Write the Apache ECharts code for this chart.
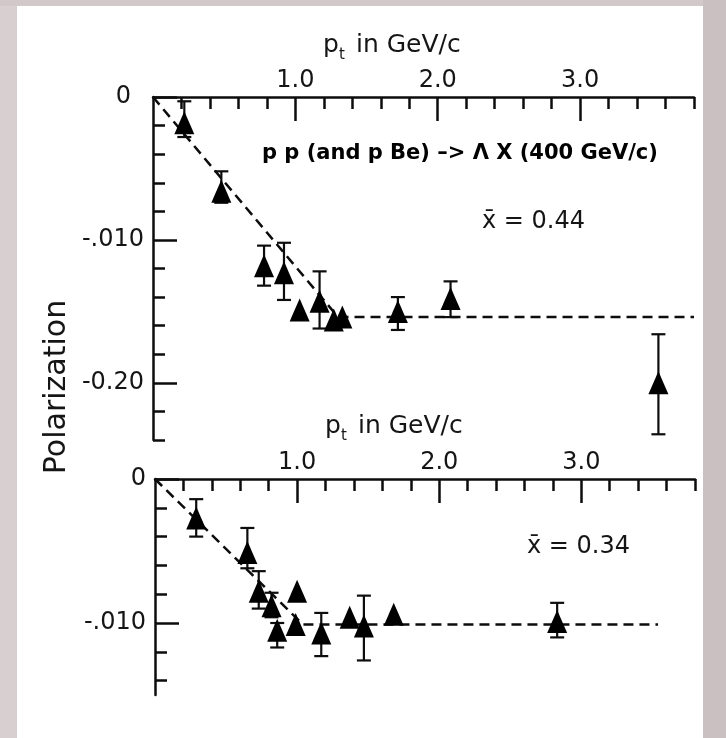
<!DOCTYPE html>
<html>
<head>
<meta charset="utf-8">
<script src="https://cdn.jsdelivr.net/npm/echarts@6/dist/echarts.min.js"></script>
<style>
  html, body { margin: 0; padding: 0; background: #fff; }
  #chart { width: 726px; height: 738px; }
</style>
</head>
<body>
<div id="chart"></div>
<script>
// upper panel: p p (and p Be) -> Lambda X, xbar = 0.44
const topPt     = [0.22, 0.48, 0.78, 0.92, 1.03, 1.17, 1.27, 1.33, 1.72, 2.09, 3.55];
const topPol    = [-0.018, -0.066, -0.118, -0.123, -0.149, -0.143, -0.156, -0.154, -0.150, -0.141, -0.200];
const topErrHi  = [-0.003, -0.052, -0.104, -0.102, null, -0.122, null, null, -0.140, -0.129, -0.166];
const topErrLo  = [-0.028, -0.074, -0.132, -0.142, null, -0.162, null, null, -0.163, -0.154, -0.236];
const topFitPt  = [0, 1.30, 3.8];
const topFitPol = [0, -0.154, -0.154];

// lower panel: xbar = 0.34
const botPt     = [0.29, 0.65, 0.73, 0.82, 0.86, 0.99, 1.00, 1.17, 1.37, 1.47, 1.68, 2.83];
const botPol    = [-0.027, -0.051, -0.078, -0.088, -0.105, -0.101, -0.078, -0.107, -0.096, -0.102, -0.094, -0.099];
const botErrHi  = [-0.014, -0.034, -0.064, -0.079, -0.100, null, null, -0.093, null, -0.081, null, -0.086];
const botErrLo  = [-0.040, -0.062, -0.090, -0.096, -0.117, null, null, -0.123, null, -0.126, null, -0.110];
const botFitPt  = [0, 1.04, 3.54];
const botFitPol = [0, -0.101, -0.101];

// ticks and labels
const xMajorTicks = [1, 2, 3];
const xMinorTicks = [0.2, 0.4, 0.6, 0.8, 1.2, 1.4, 1.6, 1.8, 2.2, 2.4, 2.6, 2.8, 3.2, 3.4, 3.6, 3.8];
const topYTicks = [0, -0.1, -0.2];
const topYLabels = ['0', '-.010', '-0.20'];
const topYMinor = [-0.02, -0.04, -0.06, -0.08, -0.12, -0.14, -0.16, -0.18, -0.22, -0.24];
const botYTicks = [0, -0.1];
const botYLabels = ['0', '-.010'];
const botYMinor = [-0.02, -0.04, -0.06, -0.08, -0.12, -0.14];

const FONT = 'DejaVu Sans';
const INK = '#0d0d0d';
const TEXT = '#151515';

const zip = (a, b) => a.map((v, i) => [v, b[i]]);
const errData = (pt, lo, hi) => pt.map((x, i) => [x, lo[i], hi[i]]).filter(d => d[1] !== null);

function labelFor(vals, labels, shiftZero) {
    return function (v) {
        const i = vals.findIndex(t => Math.abs(t - v) < 1e-6);
        if (i < 0) return '';
        if (shiftZero && labels[i] === '0') return '{z|0}';
        return labels[i];
    };
}

function errorBars(params, api) {
    const x = api.value(0);
    const lo = api.coord([x, api.value(1)]);
    const hi = api.coord([x, api.value(2)]);
    const cap = 7;
    const style = { stroke: INK, lineWidth: 2.2 };
    return {
        type: 'group',
        children: [
            { type: 'line', shape: { x1: lo[0], y1: lo[1], x2: hi[0], y2: hi[1] }, style: style },
            { type: 'line', shape: { x1: lo[0] - cap, y1: lo[1], x2: lo[0] + cap, y2: lo[1] }, style: style },
            { type: 'line', shape: { x1: hi[0] - cap, y1: hi[1], x2: hi[0] + cap, y2: hi[1] }, style: style }
        ]
    };
}

function xAxes(grid) {
    return [
        {
            gridIndex: grid, type: 'value', position: 'top', min: 0, max: 3.8,
            axisLine: { show: true, onZero: false, lineStyle: { color: INK, width: 2.5 } },
            axisTick: { show: true, inside: true, length: 24, customValues: xMajorTicks, lineStyle: { color: INK, width: 2.5 } },
            axisLabel: { customValues: xMajorTicks, formatter: v => v.toFixed(1), margin: 4,
                         fontFamily: FONT, fontSize: 24, color: TEXT },
            splitLine: { show: false }
        },
        {
            gridIndex: grid, type: 'value', position: 'top', min: 0, max: 3.8,
            axisLine: { show: false },
            axisTick: { show: true, inside: true, length: 12, customValues: xMinorTicks, lineStyle: { color: INK, width: 2.5 } },
            axisLabel: { show: false },
            splitLine: { show: false }
        }
    ];
}

function yAxes(grid, min, ticks, labels, minor, shiftZero) {
    return [
        {
            gridIndex: grid, type: 'value', position: 'left', min: min, max: 0,
            axisLine: { show: true, onZero: false, lineStyle: { color: INK, width: 2.5 } },
            axisTick: { show: true, inside: true, length: 24, customValues: ticks, lineStyle: { color: INK, width: 2.5 } },
            axisLabel: { customValues: ticks, formatter: labelFor(ticks, labels, shiftZero), margin: 9,
                         fontFamily: FONT, fontSize: 24, color: TEXT,
                         rich: { z: { fontFamily: FONT, fontSize: 24, color: TEXT, padding: [0, 13, 0, 0] } } },
            splitLine: { show: false }
        },
        {
            gridIndex: grid, type: 'value', position: 'left', min: min, max: 0,
            axisLine: { show: false },
            axisTick: { show: true, inside: true, length: 12, customValues: minor, lineStyle: { color: INK, width: 2.5 } },
            axisLabel: { show: false },
            splitLine: { show: false }
        }
    ];
}

function txt(x, y, text, size, extra) {
    return {
        type: 'text', x: x, y: y, z: 10,
        style: Object.assign({ text: text, fontFamily: FONT, fontSize: size, fill: TEXT,
                               textAlign: 'left', textVerticalAlign: 'middle', verticalAlign: 'middle' }, extra || {})
    };
}

const chartDom = document.getElementById('chart');
const myChart = echarts.init(chartDom);

const option = {
    animation: false,
    backgroundColor: '#ffffff',
    grid: [
        { left: 153, top: 97, width: 541, height: 343 },
        { left: 155, top: 479, width: 540, height: 216 }
    ],
    xAxis: xAxes(0).concat(xAxes(1)),
    yAxis: yAxes(0, -0.24, topYTicks, topYLabels, topYMinor, true)
        .concat(yAxes(1, -0.15, botYTicks, botYLabels, botYMinor, false)),
    series: [
        {
            type: 'line', xAxisIndex: 0, yAxisIndex: 0, data: zip(topFitPt, topFitPol),
            symbol: 'none', silent: true, z: 1,
            lineStyle: { color: INK, width: 2.5, type: [10, 6] }
        },
        {
            type: 'custom', xAxisIndex: 0, yAxisIndex: 0, data: errData(topPt, topErrLo, topErrHi),
            renderItem: errorBars, clip: false, z: 2
        },
        {
            type: 'scatter', xAxisIndex: 0, yAxisIndex: 0, data: zip(topPt, topPol),
            symbol: 'triangle', symbolSize: [20, 23], itemStyle: { color: '#000', opacity: 1 }, z: 3
        },
        {
            type: 'line', xAxisIndex: 2, yAxisIndex: 2, data: zip(botFitPt, botFitPol),
            symbol: 'none', silent: true, z: 1,
            lineStyle: { color: INK, width: 2.5, type: [10, 6] }
        },
        {
            type: 'custom', xAxisIndex: 2, yAxisIndex: 2, data: errData(botPt, botErrLo, botErrHi),
            renderItem: errorBars, clip: false, z: 2
        },
        {
            type: 'scatter', xAxisIndex: 2, yAxisIndex: 2, data: zip(botPt, botPol),
            symbol: 'triangle', symbolSize: [20, 23], itemStyle: { color: '#000', opacity: 1 }, z: 3
        }
    ],
    graphic: [
        // marble-ish frame around the white sheet
        { type: 'rect', shape: { x: 0, y: 0, width: 17, height: 738 }, style: { fill: '#d8d0d0' }, z: 0 },
        { type: 'rect', shape: { x: 0, y: 0, width: 726, height: 6 }, style: { fill: '#d2c8c9' }, z: 0 },
        { type: 'rect', shape: { x: 703, y: 0, width: 23, height: 738 }, style: { fill: '#cbc0c1' }, z: 0 },

        // upper axis title
        txt(323, 45, 'p', 25),
        txt(339, 55, 't', 15),
        txt(356, 45, 'in GeV/c', 25),
        // lower axis title
        txt(325, 426, 'p', 25),
        txt(341, 436, 't', 15),
        txt(358, 426, 'in GeV/c', 25),

        txt(262, 154, 'p p (and p Be) –> Λ X (400 GeV/c)', 21, { fontWeight: 'bold', fill: '#000' }),
        txt(482, 222, 'x̄ = 0.44', 24),
        txt(527, 547, 'x̄ = 0.34', 24),

        {
            type: 'text', x: 57, y: 387, rotation: Math.PI / 2, z: 10,
            style: { text: 'Polarization', fontFamily: FONT, fontSize: 30, fill: TEXT,
                     textAlign: 'center', textVerticalAlign: 'middle', verticalAlign: 'middle' }
        }
    ]
};

myChart.setOption(option);
</script>
</body>
</html>
